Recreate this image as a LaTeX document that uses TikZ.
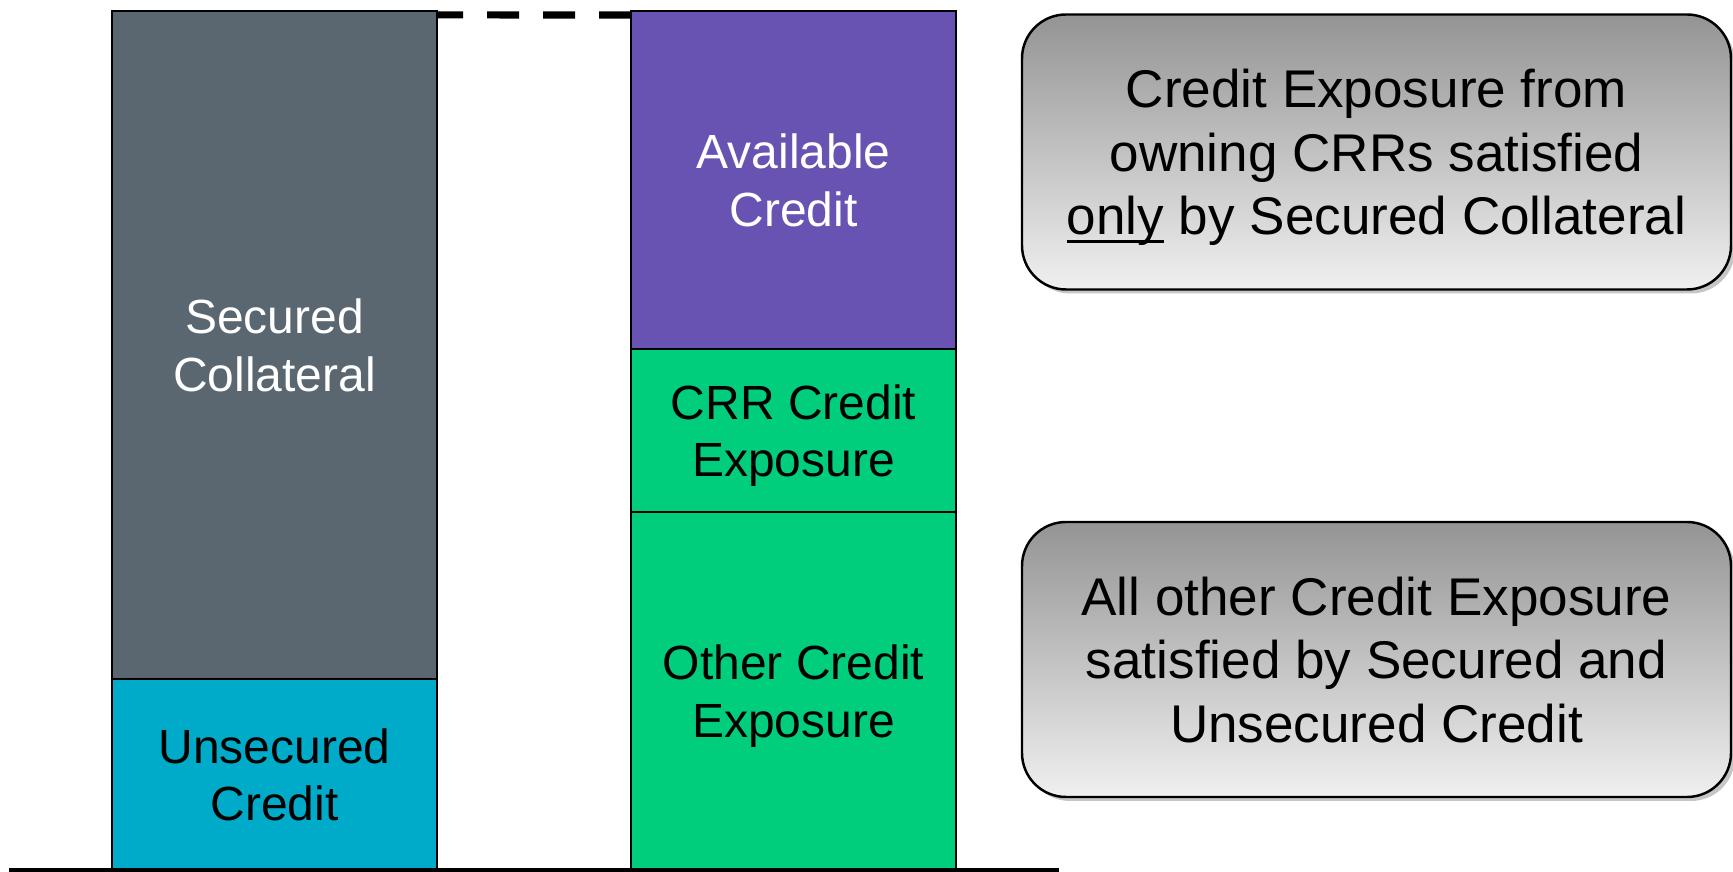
\documentclass[tikz,border=0pt]{standalone}
\usepackage{fontspec}
\setmainfont{Liberation Sans}
\usetikzlibrary{positioning, shadows}

\definecolor{collgray}{HTML}{5A6670}
\definecolor{unsecblue}{HTML}{00ABC9}
\definecolor{availpurple}{HTML}{6853B2}
\definecolor{exposgreen}{HTML}{00CE7C}

% underline that does not change the line depth
\newsavebox{\ulwordbox}
\newcommand{\ulword}[1]{\sbox{\ulwordbox}{#1}\rlap{\smash{\rule[-0.15em]{\wd\ulwordbox}{0.055em}}}\usebox{\ulwordbox}}

\begin{document}
\begin{tikzpicture}[
    bar/.style={rectangle, draw, line width=1.1pt, inner sep=0pt, outer sep=0pt, minimum width=6.5cm, align=center, text depth=0pt, font=\fontsize{27.3}{32.7}\selectfont},
    note/.style={rectangle, rounded corners=0.88cm, draw, line width=1.4pt, top color=black!42, bottom color=black!6, minimum width=14.18cm, minimum height=5.5cm, align=center, text depth=0pt, font=\fontsize{30.2}{36.1}\selectfont, drop shadow={shadow xshift=0.08cm, shadow yshift=-0.08cm, opacity=0.45}}
]
        \useasboundingbox (0, 0) rectangle (34.66, 17.44);

        % left column
        \node[bar, fill=unsecblue, minimum height=3.82cm, anchor=south west] at (2.24, 0.04) (unsec) {Unsecured\\Credit};
        \node[bar, fill=collgray, text=white, minimum height=13.36cm, above=0pt of unsec] (coll) {Secured\\Collateral};

        % right column
        \node[bar, fill=exposgreen, minimum height=7.16cm, anchor=south west] at (12.62, 0.04) (other) {Other Credit\\Exposure};
        \node[bar, fill=exposgreen, minimum height=3.26cm, above=0pt of other] (crr) {CRR Credit\\Exposure};
        \node[bar, fill=availpurple, text=white, minimum height=6.76cm, above=0pt of crr] (avail) {Available\\Credit};

        \draw[line width=2pt] (0.18, 0.04) -- (21.18, 0.04);
        \draw[line width=4pt, dash pattern=on 0.64cm off 0.48cm] ([yshift=-0.08cm]avail.north west) -- ([yshift=-0.08cm]coll.north east);

        \node[note] at (27.53, 14.40) (crrnote) {Credit Exposure from\\owning CRRs satisfied\\\ulword{only} by Secured Collateral};
        \node[note] at (27.53, 4.25) (othernote) {All other Credit Exposure\\satisfied by Secured and\\Unsecured Credit};
\end{tikzpicture}
\end{document}
